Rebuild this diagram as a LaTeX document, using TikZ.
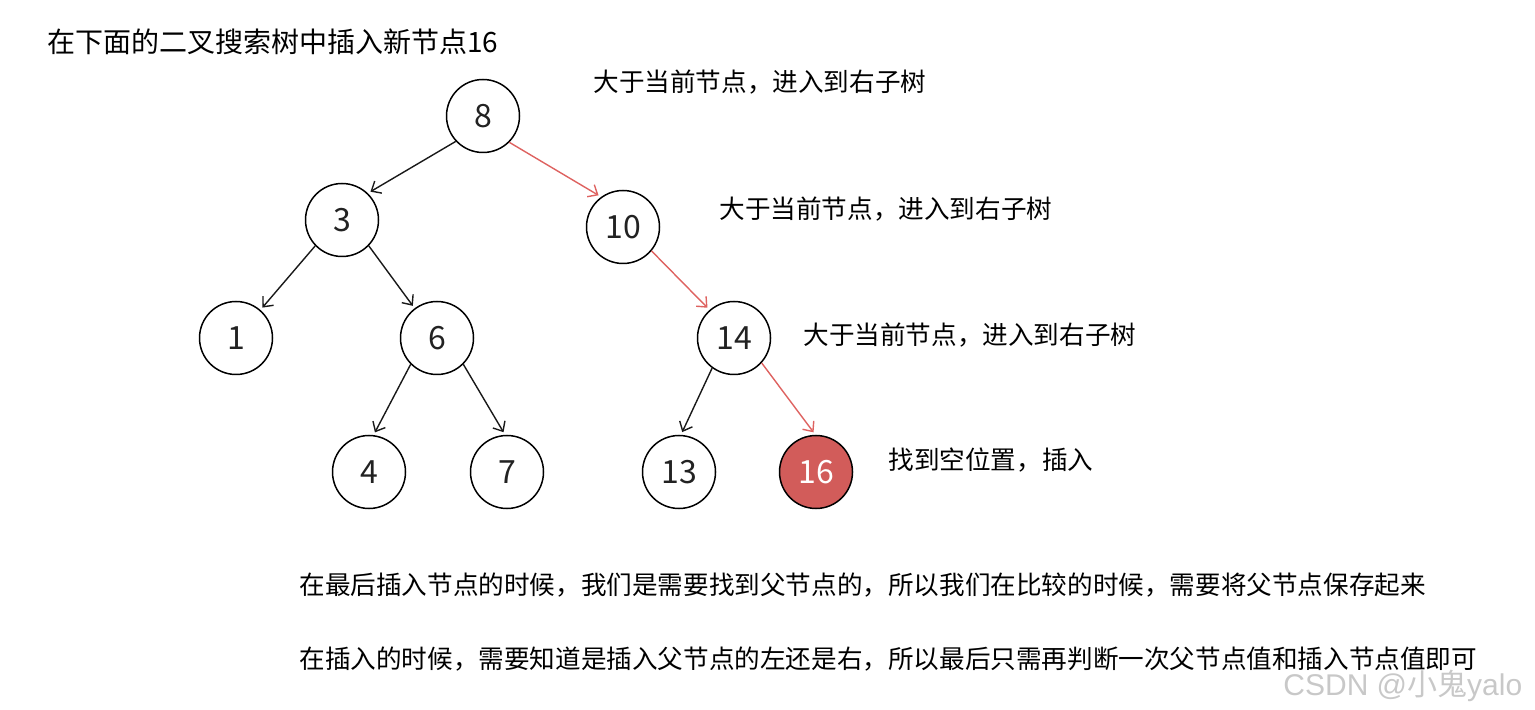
\documentclass[tikz,border=0pt]{standalone}
\usepackage{fontspec}
\setmainfont{Noto Sans CJK SC}
\newfontfamily\wmfont{Liberation Sans}
\newfontfamily\wmcjk{Noto Sans CJK SC}
\usetikzlibrary{arrows.meta}
\definecolor{nodeink}{RGB}{34,34,34}
\definecolor{redfill}{RGB}{210,92,90}
\definecolor{redline}{RGB}{222,98,96}
\definecolor{wmgray}{RGB}{200,200,200}
\tikzset{
  treenode/.style={circle,draw=black,line width=0.75pt,minimum size=36.5pt,inner sep=0pt,
    font=\fontsize{16}{18}\selectfont,text=nodeink},
  hitnode/.style={treenode,fill=redfill,text=white},
  arr/.style={-{Straight Barb[length=4pt,width=7pt]},line width=0.7pt,draw=black!90,shorten >=1.5pt},
  redarr/.style={arr,draw=redline},
  note/.style={anchor=west,inner sep=0pt,font=\fontsize{12.8}{15}\selectfont,text=black}
}
\begin{document}
\begin{tikzpicture}[x=0.5pt,y=-0.5pt]
\useasboundingbox (0,0) rectangle (1535,710);
% nodes
\node[treenode] (n8)  at (483,116) {8};
\node[treenode] (n3)  at (342,220) {3};
\node[treenode] (n10) at (623,227) {10};
\node[treenode] (n1)  at (236,338) {1};
\node[treenode] (n6)  at (437,338) {6};
\node[treenode] (n14) at (734,338) {14};
\node[treenode] (n4)  at (369,472) {4};
\node[treenode] (n7)  at (507,472) {7};
\node[treenode] (n13) at (679,472) {13};
\node[hitnode]  (n16) at (816,472) {16};
% edges
\draw[arr]    (n8.223)  -- (n3.46);
\draw[redarr] (n8.315)  -- (n10.126);
\draw[arr]    (n3.224)  -- (n1.49);
\draw[arr]    (n3.316)  -- (n6.127);
\draw[redarr] (n10.320) -- (n14.131);
\draw[arr]    (n6.225)  -- (n4.83);
\draw[arr]    (n6.315)  -- (n7.93);
\draw[arr]    (n14.234) -- (n13.87);
\draw[redarr] (n14.318) -- (n16.91);
% texts
\node[note,font=\fontsize{14}{16}\selectfont] (title) at (47,42) {在下面的二叉搜索树中插入新节点16};
\node[note] (t1) at (593,82) {大于当前节点，进入到右子树};
\node[note] (t2) at (719,209) {大于当前节点，进入到右子树};
\node[note] (t3) at (803,335) {大于当前节点，进入到右子树};
\node[note] (t4) at (888,460) {找到空位置，插入};
\node[note] (b1) at (299,585) {在最后插入节点的时候，我们是需要找到父节点的，所以我们在比较的时候，需要将父节点保存起来};
\node[note] (b2) at (299,659) {在插入的时候，需要知道是插入父节点的左还是右，所以最后只需再判断一次父节点值和插入节点值即可};
\node[anchor=west,inner sep=0pt,text=wmgray,font=\fontsize{15}{17}\selectfont] (wm) at (1283,686) {\wmfont CSDN @\wmcjk 小鬼\wmfont yalo};
\end{tikzpicture}
\end{document}
